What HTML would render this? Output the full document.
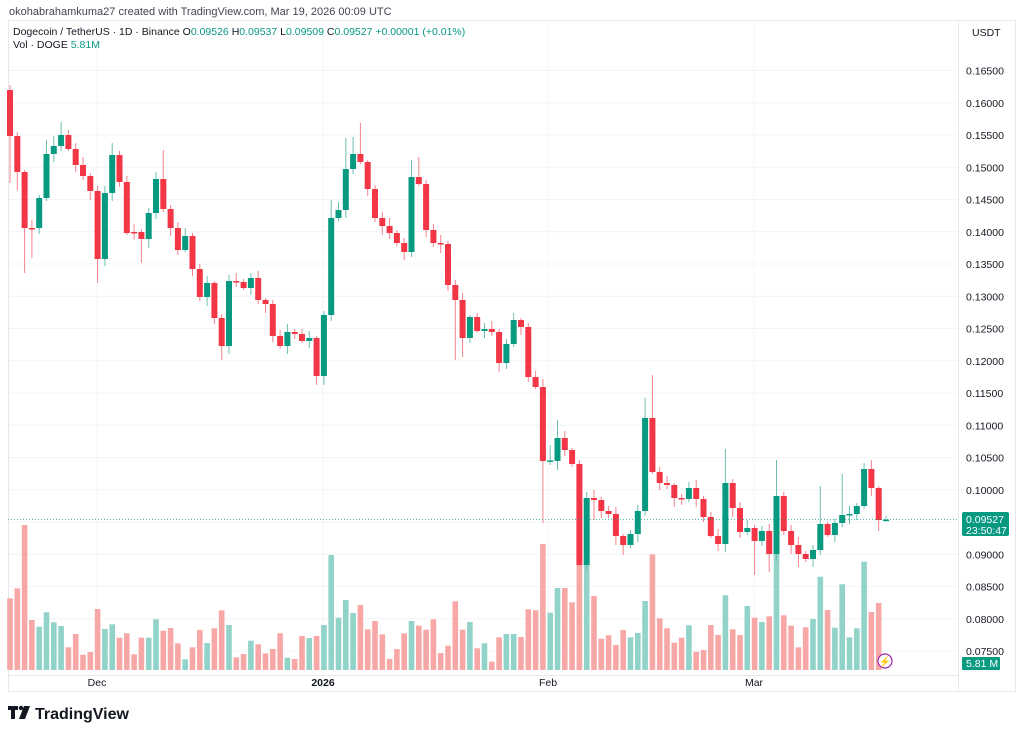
<!DOCTYPE html>
<html><head><meta charset="utf-8"><style>
body{margin:0;background:#fff;width:1024px;height:735px;overflow:hidden;font-family:"Liberation Sans",sans-serif}
svg{position:absolute;left:0;top:0}
</style></head><body>
<svg id="s" width="1024" height="735" xmlns="http://www.w3.org/2000/svg"></svg>
<script>
const C=[[90,136],[136,172],[172,228],[228,228.6],[228,198],[198,154],[154,146],[146,135],[135,149],[149,165],[165,176],[176,191],[191,259],[259,193],[193,155],[155,182],[182,233],[232,232.6],[232,239],[239,213],[213,179],[179,209],[209,228],[228,250],[250,236],[236,269],[269,297],[297,283],[283,318],[318,346],[346,281],[281,282],[282,288],[288,278],[278,300],[300,304],[304,336],[336,346],[346,332],[332,334],[334,341],[341,338],[338,376],[376,315],[315,218],[218,210],[210,169],[169,154],[154,162],[162,189],[189,218],[218,226],[226,233],[233,243],[243,252],[252,177],[177,184],[184,230],[230,243],[243,244],[244,285],[285,300],[300,338],[338,317],[317,331],[331,329],[329,332],[332,363],[363,344],[344,320],[320,327],[327,377],[377,387],[387,461],[461,460.4],[461,438],[438,450],[450,464],[464,565],[565,498],[498,500],[500,511],[511,514],[514,536],[536,545],[545,534],[534,511],[511,418],[418,472],[472,483],[483,485],[485,498],[498,499],[499,488],[488,499],[499,517],[517,536],[536,544],[544,483],[483,508],[508,532],[532,528],[528,541],[541,531],[531,554],[554,496],[496,531],[531,545],[545,554],[554,559],[559,550],[550,524],[524,535],[535,523],[523,515],[515,514],[514,506],[506,469],[469,488],[488,520],[520,519.6]];
const V=[235,205,15,300,320,277,307,318,382,342,404,396,267,327,313,353,340,403,353,353,298,332,324,370,418,382,330,369,325,271,315,412,402,362,373,400,387,340,413,417,348,354,348,315,105,293,240,279,255,328,303,343,417,387,340,303,317,329,298,399,377,244,329,306,385,370,425,352,342,342,351,268,271,72,278,204,204,247,130,130,228,356,346,375,330,352,339,243,103,295,325,368,353,316,395,390,315,345,226,328,345,258,293,306,289,100,286,317,382,322,297,170,270,323,193,352,325,125,276,249];
const HI={0:85,2:170,5:140,6:136,7:122,8:130,14:143,21:150,44:200,46:138,47:137,48:123,55:160,56:157,74:445,75:420,87:398,88:375,98:449,105:460,111:486,114:474,117:463,118:460};
const LO={0:183,1:190,2:273,3:258,12:283,13:266,18:263,29:360,42:385,61:360,62:357,73:523,78:520,80:520,84:555,98:552,102:575,104:572,108:567,119:531};
let h='';
for(let k=0;k<19;k++){const y=70.5+32.25*k;h+=`<line x1="8" x2="958" y1="${y}" y2="${y}" stroke="#f2f4f8"/>`;}
[97,323,548,754].forEach(x=>h+=`<line x1="${x}" x2="${x}" y1="20" y2="675" stroke="#f2f4f8"/>`);
h+=`<rect x="8.5" y="20.5" width="1007" height="671" fill="none" stroke="#e6e8ee"/>`;
h+=`<line x1="958.5" x2="958.5" y1="20" y2="692" stroke="#e6e8ee"/>`;
h+=`<line x1="8" x2="958" y1="675.5" y2="675.5" stroke="#e6e8ee"/>`;
V.forEach((t,i)=>{const x=10+i*7.3;const up=C[i][1]<C[i][0];h+=`<rect x="${(x-2.8).toFixed(1)}" y="${(520+t/3).toFixed(1)}" width="5.6" height="${(670-520-t/3).toFixed(1)}" fill="${up?'#91d3c8':'#f7a8a6'}"/>`;});
C.forEach((c,i)=>{const x=10+i*7.3;const up=c[1]<c[0];const col=up?'#089981':'#f23645';const wc=up?'#6cc0b1':'#f7828c';
const top=Math.min(c[0],c[1]),bot=Math.max(c[0],c[1]);
const hi=HI[i]!==undefined?HI[i]:top-(2+((i*37)%7));const lo=LO[i]!==undefined?LO[i]:bot+(2+((i*53)%8));
h+=`<line x1="${x.toFixed(1)}" x2="${x.toFixed(1)}" y1="${hi}" y2="${lo}" stroke="${wc}" stroke-width="1"/>`;
h+=`<rect x="${(x-3).toFixed(1)}" y="${top}" width="6" height="${Math.max(bot-top,1.5)}" fill="${col}"/>`;});
h+=`<line x1="8" x2="958" y1="519.5" y2="519.5" stroke="#089981" stroke-dasharray="1,2" opacity=".7"/>`;
const P=['0.16500','0.16000','0.15500','0.15000','0.14500','0.14000','0.13500','0.13000','0.12500','0.12000','0.11500','0.11000','0.10500','0.10000','0.09500','0.09000','0.08500','0.08000','0.07500'];
P.forEach((p,k)=>{if(k==14)return;h+=`<text x="966" y="${74.5+32.25*k}" font-size="10.5" fill="#131722">${p}</text>`});
h+=`<text x="972" y="36" font-size="10.5" fill="#131722">USDT</text>`;
h+=`<rect x="962" y="512" width="47" height="24" rx="2" fill="#089981"/><text x="966" y="523" font-size="10.5" fill="#fff">0.09527</text><text x="966" y="534" font-size="10.5" fill="#fff">23:50:47</text>`;
h+=`<rect x="962" y="657" width="38" height="13" rx="1" fill="#089981"/><text x="966" y="667" font-size="10.5" fill="#fff">5.81 M</text>`;
h+=`<circle cx="885" cy="661" r="7" fill="#fff" stroke="#9c27b0" stroke-width="1.2"/><text x="885" y="665" font-size="10" fill="#9c27b0" text-anchor="middle">⚡</text>`;
h+=`<text x="97" y="686" font-size="10.5" fill="#131722" text-anchor="middle">Dec</text><text x="323" y="686" font-size="10.5" font-weight="bold" fill="#131722" text-anchor="middle">2026</text><text x="548" y="686" font-size="10.5" fill="#131722" text-anchor="middle">Feb</text><text x="754" y="686" font-size="10.5" fill="#131722" text-anchor="middle">Mar</text>`;
h+=`<text x="9" y="15" font-size="11" fill="#434651">okohabrahamkuma27 created with TradingView.com, Mar 19, 2026 00:09 UTC</text>`;
h+=`<text x="13" y="35" font-size="10.5" fill="#131722">Dogecoin / TetherUS · 1D · Binance  O<tspan fill="#089981">0.09526</tspan>  H<tspan fill="#089981">0.09537</tspan>  L<tspan fill="#089981">0.09509</tspan>  C<tspan fill="#089981">0.09527  +0.00001 (+0.01%)</tspan></text>`;
h+=`<text x="13" y="48" font-size="10.5" fill="#131722">Vol · DOGE  <tspan fill="#089981">5.81M</tspan></text>`;
h+=`<rect x="8" y="706" width="10" height="4" fill="#131722"/><rect x="11" y="706" width="4" height="13" fill="#131722"/><circle cx="21" cy="708" r="2.2" fill="#131722"/><polygon points="24,706 30,706 25,719 19,719" fill="#131722"/>`;
h+=`<text x="35" y="719" font-size="16" font-weight="bold" fill="#131722">TradingView</text>`;
document.getElementById('s').innerHTML=h;
</script>
</body></html>
